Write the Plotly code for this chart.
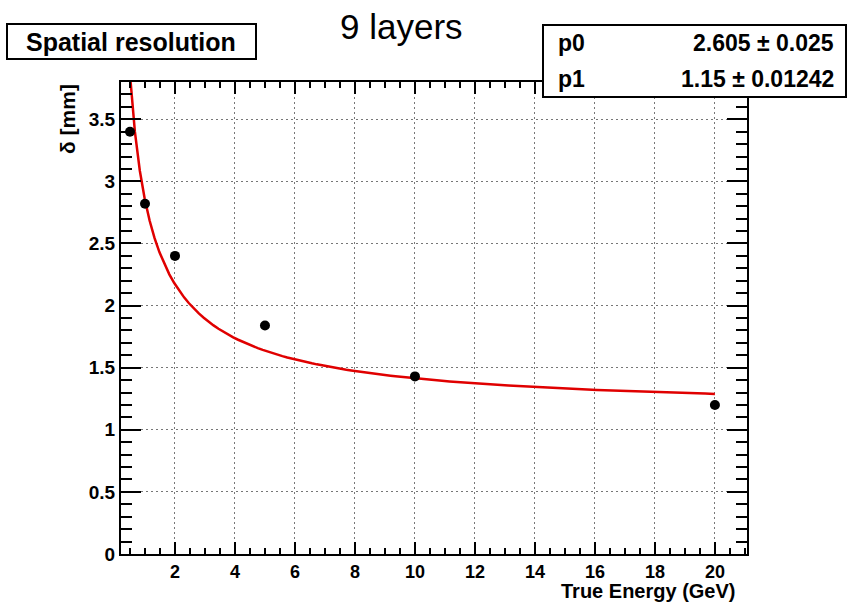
import numpy as np
import plotly.graph_objects as go

# Data
energy = [0.5, 1, 2, 5, 10, 20]
delta = [3.40, 2.82, 2.40, 1.84, 1.43, 1.20]
p0, p0_err = 2.605, 0.025
p1, p1_err = 1.15, 0.01242
x_ticks = [2, 4, 6, 8, 10, 12, 14, 16, 18, 20]
y_ticks = [0, 0.5, 1, 1.5, 2, 2.5, 3, 3.5]

W, H = 847, 605
L, R, T, B = 121, 747, 82, 554

def px(xp):
    return (xp - L) / (R - L)

def py(yp):
    return (B - yp) / (B - T)

fx = np.linspace(0.5, 20, 120)
fy = np.sqrt(p0**2 / fx + p1**2)

FONT = "Liberation Sans"

fig = go.Figure()
fig.add_trace(go.Scatter(x=fx, y=fy, mode="lines", line=dict(color="#e00000", width=2.5),
                         showlegend=False, hoverinfo="skip"))
fig.add_trace(go.Scatter(x=energy, y=delta, mode="markers",
                         marker=dict(color="black", size=10), showlegend=False))

axis_common = dict(
    showline=True, linecolor="black", linewidth=2, mirror="allticks",
    ticks="inside", tickcolor="black", tickwidth=2,
    showgrid=True, gridcolor="#777777", griddash="2px,3px", gridwidth=1,
    zeroline=False,
)

fig.update_xaxes(range=[0.2, 21.07], tickvals=x_ticks, ticklen=12,
                 tickfont=dict(family=FONT, size=18, color="black", weight="bold"),
                 minor=dict(dtick=0.5, tick0=0, ticks="inside", ticklen=6, tickwidth=2,
                            tickcolor="black", showgrid=False),
                 **axis_common)
fig.update_yaxes(range=[0, 3.8], tickvals=y_ticks, ticklen=20,
                 tickfont=dict(family=FONT, size=19, color="black", weight="bold"),
                 minor=dict(dtick=0.1, tick0=0, ticks="inside", ticklen=11, tickwidth=2,
                            tickcolor="black", showgrid=False),
                 **axis_common)

shapes = []
annotations = []
# Title box "Spatial resolution"
shapes.append(dict(type="rect", xref="paper", yref="paper",
                   x0=px(7), x1=px(256), y0=py(59), y1=py(24),
                   line=dict(color="black", width=2), fillcolor="white"))
annotations.append(dict(text="Spatial resolution", xref="paper", yref="paper",
                        x=px(131), y=py(42), xanchor="center", yanchor="middle",
                        showarrow=False,
                        font=dict(family=FONT, size=25, color="black", weight="bold")))
# Stats box
shapes.append(dict(type="rect", xref="paper", yref="paper",
                   x0=px(543), x1=px(846), y0=py(97), y1=py(25),
                   line=dict(color="black", width=2), fillcolor="white"))
annotations += [
    dict(text="p0", x=px(556), y=py(43), xanchor="left", yanchor="middle"),
    dict(text=f"{p0} \u00b1 {p0_err}", x=px(836), y=py(43), xanchor="right", yanchor="middle"),
    dict(text="p1", x=px(556), y=py(79), xanchor="left", yanchor="middle"),
    dict(text=f"{p1} \u00b1 {p1_err}", x=px(836), y=py(79), xanchor="right", yanchor="middle"),
]
for a in annotations[-4:]:
    a.update(xref="paper", yref="paper", showarrow=False,
             font=dict(family=FONT, size=23, color="black", weight="bold"))
# main title
annotations.append(dict(text="9 layers", xref="paper", yref="paper",
                        x=px(401), y=py(26), xanchor="center", yanchor="middle",
                        showarrow=False, font=dict(family=FONT, size=35, color="black")))
# axis titles
annotations.append(dict(text="True Energy (GeV)", xref="paper", yref="paper",
                        x=px(738), y=py(604), xanchor="right", yanchor="bottom",
                        showarrow=False,
                        font=dict(family=FONT, size=20, color="black", weight="bold")))
annotations.append(dict(text="\u03b4 [mm]", xref="paper", yref="paper",
                        x=px(67), y=py(82), xanchor="center", yanchor="top",
                        textangle=-90, showarrow=False,
                        font=dict(family=FONT, size=21, color="black", weight="bold")))

fig.update_layout(
    width=W, height=H,
    margin=dict(l=L, r=W - R, t=T, b=H - B, pad=0),
    paper_bgcolor="white", plot_bgcolor="white",
    shapes=shapes, annotations=annotations,
)

fig.write_html("out.html")
